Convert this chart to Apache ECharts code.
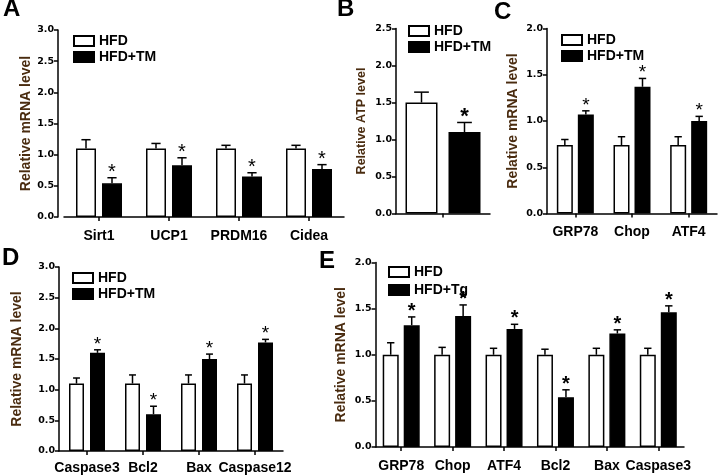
<!DOCTYPE html>
<html><head><meta charset="utf-8">
<script src="https://cdn.jsdelivr.net/npm/echarts@6/dist/echarts.min.js"></script>
<style>html,body{margin:0;padding:0;background:#fff}#c{width:718px;height:475px}</style>
</head><body><div id="c"></div>
<script>
// ---- data ----
const catA = ['Sirt1', 'UCP1', 'PRDM16', 'Cidea'];
const hfdA = [1.10, 1.10, 1.10, 1.10];
const hfdASem = [0.14, 0.08, 0.05, 0.05];
const tmA = [0.54, 0.83, 0.65, 0.77];
const tmASem = [0.09, 0.12, 0.06, 0.07];

const catB = [''];
const hfdB = [1.50];
const hfdBSem = [0.14];
const tmB = [1.10];
const tmBSem = [0.13];

const catC = ['GRP78', 'Chop', 'ATF4'];
const hfdC = [0.74, 0.74, 0.74];
const hfdCSem = [0.06, 0.09, 0.09];
const tmC = [1.07, 1.37, 1.00];
const tmCSem = [0.04, 0.09, 0.05];

const catD = ['Caspase3', 'Bcl2', 'Bax', 'Caspase12'];
const hfdD = [1.10, 1.10, 1.10, 1.10];
const hfdDSem = [0.09, 0.14, 0.14, 0.14];
const tmD = [1.60, 0.60, 1.50, 1.77];
const tmDSem = [0.05, 0.13, 0.08, 0.05];

const catE = ['GRP78', 'Chop', 'ATF4', 'Bcl2', 'Bax', 'Caspase3'];
const hfdE = [1.00, 1.00, 1.00, 1.00, 1.00, 1.00];
const hfdESem = [0.13, 0.08, 0.07, 0.06, 0.07, 0.07];
const tgE = [1.32, 1.42, 1.28, 0.54, 1.23, 1.46];
const tgESem = [0.09, 0.12, 0.05, 0.08, 0.04, 0.07];

// ---- build ----
const FONT = 'Liberation Sans';
const chart = echarts.init(document.getElementById('c'), null, {renderer: 'canvas'});

const panels = [
  {cat: catA, a: hfdA, aS: hfdASem, b: tmA, bS: tmASem, bName: 'HFD+TM', yMax: 3, yName: 'Relative mRNA level', nameGap: 23.5, nameSize: 14,
   grid: {left: 64, top: 30, width: 280, height: 187}, yOffset: 6, bw: 20, gap: 6, starSize: 20, starBold: 'normal',
   legend: {left: 68, top: 28, lh: 16}, labelMargin: 12},
  {cat: catB, a: hfdB, aS: hfdBSem, b: tmB, bS: tmBSem, bName: 'HFD+TM', yMax: 2.5, yName: 'Relative ATP level', nameGap: 28, nameSize: 12.5,
   grid: {left: 396, top: 28.5, width: 94, height: 185}, yOffset: 0, bw: 32, gap: 11, starSize: 22, starBold: 'bold',
   legend: {left: 403, top: 18, lh: 16}, labelMargin: 12},
  {cat: catC, a: hfdC, aS: hfdCSem, b: tmC, bS: tmCSem, bName: 'HFD+TM', yMax: 2, yName: 'Relative mRNA level', nameGap: 26.5, nameSize: 14,
   grid: {left: 547, top: 28.5, width: 170, height: 185}, yOffset: 0, bw: 16, gap: 5, starSize: 19, starBold: 'normal',
   legend: {left: 556, top: 27, lh: 16}, labelMargin: 12},
  {cat: catD, a: hfdD, aS: hfdDSem, b: tmD, bS: tmDSem, bName: 'HFD+TM', yMax: 3, yName: 'Relative mRNA level', nameGap: 34.5, nameSize: 14,
   grid: {left: 59, top: 267, width: 224, height: 184}, yOffset: 0, bw: 15, gap: 6, starSize: 19, starBold: 'normal',
   legend: {left: 67, top: 265, lh: 16}, labelMargin: 10},
  {cat: catE, a: hfdE, aS: hfdESem, b: tgE, bS: tgESem, bName: 'HFD+Tg', yMax: 2, yName: 'Relative mRNA level', nameGap: 27.5, nameSize: 14,
   grid: {left: 375.5, top: 262.5, width: 308.5, height: 184.5}, yOffset: 0, bw: 16, gap: 5, starSize: 20, starBold: 'bold',
   legend: {left: 383, top: 258, lh: 18}, labelMargin: 12}
];

const grids = [], xAxes = [], yAxes = [], series = [], legends = [];
const axisLine = {show: true, lineStyle: {color: '#000', width: 1.5}};
const axisTick = {show: true, length: 4, lineStyle: {color: '#000', width: 1.5}};

function errItem(offset, capHalf, showStar, starSize, starBold) {
  return function (params, api) {
    const base = api.coord([api.value(0), api.value(1)]);
    const top = api.coord([api.value(0), api.value(1) + api.value(2)]);
    const cx = base[0] + offset;
    const children = [
      {type: 'line', shape: {x1: cx, y1: base[1], x2: cx, y2: top[1]}, style: {stroke: '#000', lineWidth: 1.5}},
      {type: 'line', shape: {x1: cx - capHalf, y1: top[1], x2: cx + capHalf, y2: top[1]}, style: {stroke: '#000', lineWidth: 1.5}}
    ];
    if (showStar) {
      children.push({type: 'text', x: cx, y: top[1] + starSize * 0.42 - 4, style: {text: '*', fill: '#000', align: 'center', verticalAlign: 'bottom',
        font: starBold + ' ' + starSize + 'px "' + FONT + '"'}});
    }
    return {type: 'group', children: children};
  };
}

panels.forEach(function (p, i) {
  grids.push(Object.assign({containLabel: false}, p.grid));
  xAxes.push({type: 'category', gridIndex: i, data: p.cat, axisLine: axisLine,
    axisTick: {show: true, alignWithLabel: true, length: 4, lineStyle: {color: '#000', width: 1.5}},
    axisLabel: {color: '#000', fontFamily: FONT, fontWeight: 'bold', fontSize: 14, margin: p.labelMargin, interval: 0},
    splitLine: {show: false}});
  yAxes.push({type: 'value', gridIndex: i, min: 0, max: p.yMax, interval: 0.5, offset: p.yOffset,
    name: p.yName, nameLocation: 'middle', nameGap: p.nameGap,
    nameTextStyle: {color: '#4a2c10', fontFamily: FONT, fontWeight: 'bold', fontSize: p.nameSize},
    axisLine: axisLine, axisTick: axisTick,
    axisLabel: {color: '#000', fontFamily: 'DejaVu Sans', fontWeight: 'bold', fontSize: 9.5, margin: 4,
      formatter: function (v) { return v.toFixed(1); }},
    splitLine: {show: false}});
  const barGap = (p.gap / p.bw * 100) + '%';
  series.push({type: 'bar', name: 'HFD', xAxisIndex: i, yAxisIndex: i, data: p.a, barWidth: p.bw, barGap: barGap,
    itemStyle: {color: '#fff', borderColor: '#000', borderWidth: 1.5}, emphasis: {disabled: true}, animation: false});
  series.push({type: 'bar', name: p.bName, xAxisIndex: i, yAxisIndex: i, data: p.b, barWidth: p.bw, barGap: barGap,
    itemStyle: {color: '#000', borderColor: '#000', borderWidth: 1.5}, emphasis: {disabled: true}, animation: false});
  const off = (p.bw + p.gap) / 2;
  const cap = p.bw * 0.23;
  series.push({type: 'custom', xAxisIndex: i, yAxisIndex: i, z: 5, animation: false, silent: true,
    data: p.a.map(function (v, k) { return [k, v, p.aS[k]]; }),
    renderItem: errItem(-off, cap, false, p.starSize, p.starBold)});
  series.push({type: 'custom', xAxisIndex: i, yAxisIndex: i, z: 5, animation: false, silent: true,
    data: p.b.map(function (v, k) { return [k, v, p.bS[k]]; }),
    renderItem: errItem(off, cap, true, p.starSize, p.starBold)});
  legends.push({orient: 'vertical', left: p.legend.left, top: p.legend.top, itemWidth: 20, itemHeight: 10, itemGap: 0,
    icon: 'rect', selectedMode: false, data: ['HFD', p.bName],
    textStyle: {color: '#000', fontFamily: FONT, fontWeight: 'bold', fontSize: 14, lineHeight: p.legend.lh}});
});

const letters = [['A', 3, -3], ['B', 337, -3], ['C', 494, 0], ['D', 2, 246], ['E', 319, 249]];

chart.setOption({
  animation: false,
  grid: grids, xAxis: xAxes, yAxis: yAxes, series: series, legend: legends,
  graphic: letters.map(function (l) {
    return {type: 'text', left: l[1], top: l[2], style: {text: l[0], fill: '#000', font: 'bold 24px "' + FONT + '"'}};
  })
});
</script></body></html>
